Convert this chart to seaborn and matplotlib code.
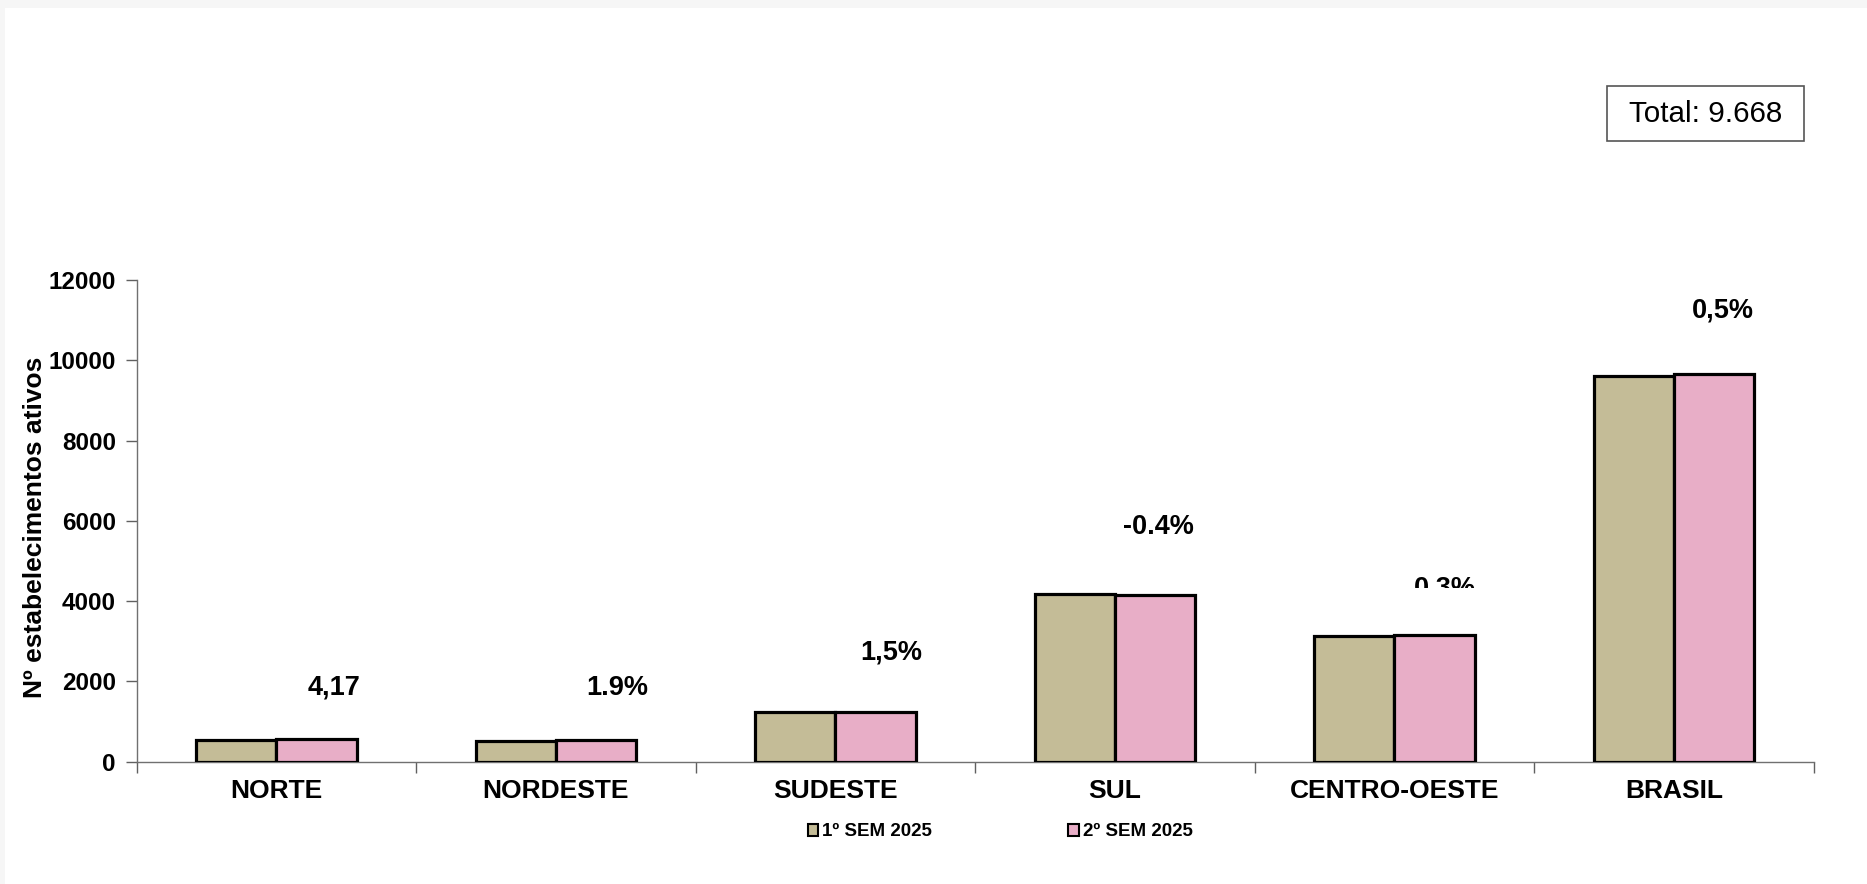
import matplotlib
matplotlib.use("Agg")
import matplotlib.pyplot as plt
import matplotlib.patches as mpatches
from matplotlib.transforms import Bbox, TransformedBbox
import numpy as np
import pandas as pd
import seaborn as sns

# ---- data ---------------------------------------------------------------
regions = ["NORTE", "NORDESTE", "SUDESTE", "SUL", "CENTRO-OESTE", "BRASIL"]
sem1_2025 = [552, 524, 1231, 4177, 3136, 9620]
sem2_2025 = [575, 534, 1250, 4161, 3146, 9668]
series_names = ["1º SEM 2025", "2º SEM 2025"]
change_labels = ["4,17", "1.9%", "1,5%", "-0.4%", "0.3%", "0,5%"]
total_label = "Total: 9.668"
y_ticks = [0, 2000, 4000, 6000, 8000, 10000, 12000]

# ---- label placement (data units) ---------------------------------------
label_dx = [0.206, 0.22, 0.20, 0.157, 0.18, 0.175]
label_y = [1836, 1836, 2720, 5854, 4302, 11236]
clipped_label = 4            # the CENTRO-OESTE label is cut at this height
clip_floor = 4320

colors = ["#C4BC97", "#E8AEC7"]

df = pd.DataFrame({
    "region": regions * 2,
    "value": sem1_2025 + sem2_2025,
    "period": [series_names[0]] * len(regions) + [series_names[1]] * len(regions),
})

sns.set_style("white")
plt.rcParams["font.family"] = ["Liberation Sans", "DejaVu Sans"]
plt.rcParams.update({
    "text.color": "black",
    "axes.labelcolor": "black",
    "xtick.labelcolor": "black",
    "ytick.labelcolor": "black",
})

W, H = 1867, 884
fig = plt.figure(figsize=(W / 100, H / 100), dpi=100, facecolor="white")

# thin grey page margin on top and left
fig.patches.append(mpatches.Rectangle((0, 1 - 8 / H), 1, 8 / H, transform=fig.transFigure,
                                      facecolor="#f6f6f6", edgecolor="none", zorder=0))
fig.patches.append(mpatches.Rectangle((0, 0), 5 / W, 1, transform=fig.transFigure,
                                      facecolor="#f6f6f6", edgecolor="none", zorder=0))

ax = fig.add_axes([136.7 / W, 1 - 761.7 / H, (1813.7 - 136.7) / W, (761.7 - 280) / H])
ax.set_facecolor("white")

sns.barplot(data=df, x="region", y="value", hue="period", order=regions,
            hue_order=series_names, palette=colors, width=0.575,
            edgecolor="black", linewidth=2.3, saturation=1, errorbar=None,
            legend=False, ax=ax, zorder=3)

ax.set_xlim(-0.5, len(regions) - 0.5)
ax.set_ylim(0, 12000)
ax.set_yticks(y_ticks)
ax.set_yticklabels([str(t) for t in y_ticks], fontsize=17.5, fontweight="bold")
ax.tick_params(axis="y", direction="out", length=8, width=1, color="#606060",
               labelcolor="black", pad=7, left=True)

ax.set_xticks(range(len(regions)))
ax.set_xticklabels(regions, fontsize=19, fontweight="bold")
ax.tick_params(axis="x", which="major", length=0, pad=12.5, labelcolor="black")
ax.set_xticks(np.arange(-0.5, len(regions), 1.0), minor=True)
ax.tick_params(axis="x", which="minor", direction="out", length=8, width=1,
               color="#606060", bottom=True)

for side in ["top", "right"]:
    ax.spines[side].set_visible(False)
for side in ["left", "bottom"]:
    ax.spines[side].set_color("#707070")
    ax.spines[side].set_linewidth(1)

ax.set_xlabel("")
ax.set_ylabel("Nº estabelecimentos ativos", fontsize=19, fontweight="bold", color="black")
ax.yaxis.set_label_coords(-0.0535, 0.486)

# percentage change labels above each region
for i, txt in enumerate(change_labels):
    t = ax.text(i + label_dx[i], label_y[i], txt, ha="center", va="center",
                fontsize=19.5, fontweight="bold", color="black", zorder=5)
    if i == clipped_label:
        box = Bbox([[i - 0.5, clip_floor], [i + 0.5, 12000]])
        t.set_clip_on(True)
        t.set_clip_box(TransformedBbox(box, ax.transData))

# legend below the axis
handles = [mpatches.Patch(facecolor=c, edgecolor="black", linewidth=1.5) for c in colors]
fig.legend(handles, series_names, loc="center", bbox_to_anchor=(1000 / W, 1 - 832 / H),
           ncol=2, frameon=False, prop={"size": 13.5, "weight": "bold"},
           handlelength=0.55, handleheight=0.55, handletextpad=0.2,
           columnspacing=7.3, borderpad=0, borderaxespad=0, labelcolor="black")

# total box at the top right
bx0, bx1, by0, by1 = 1607, 1804, 86, 141
fig.patches.append(mpatches.Rectangle((bx0 / W, 1 - by1 / H), (bx1 - bx0) / W, (by1 - by0) / H,
                                      transform=fig.transFigure, facecolor="white",
                                      edgecolor="#555555", linewidth=1.2, zorder=2))
fig.text((bx0 + bx1) / 2 / W, 1 - (by0 + by1) / 2 / H, total_label, ha="center",
         va="center", fontsize=21.3, color="black", zorder=3)

fig.savefig("out.png", dpi=100, facecolor=fig.get_facecolor())
